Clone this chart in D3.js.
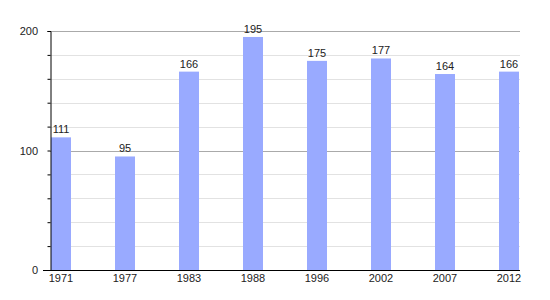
<!DOCTYPE html>
<html>
<head>
<meta charset="utf-8">
<script src="https://cdn.jsdelivr.net/npm/d3@7"></script>
<style>
  body { margin: 0; background: #fff; }
  text { font-family: "Liberation Sans", Arial, sans-serif; fill: #222; }
</style>
</head>
<body>
<div id="chart"></div>
<script>
// data
var years = ["1971", "1977", "1983", "1988", "1996", "2002", "2007", "2012"];
var population = [111, 95, 166, 195, 175, 177, 164, 166];
var yTicks = [0, 100, 200];

var width = 550;
var height = 300;

var svg = d3.select("#chart")
    .append("svg")
    .attr("width", width)
    .attr("height", height);

// scales
var xScale = d3.scaleBand()
    .domain(years)
    .range([51, 519])
    .paddingInner(44 / 64)
    .paddingOuter(0);

var yScale = d3.scaleLinear()
    .domain([0, 200])
    .range([270, 31]);

// gridlines every 20, darker at 100 and 200
var gridVals = d3.range(20, 201, 20);
svg.append("g")
    .selectAll("line")
    .data(gridVals)
    .enter()
    .append("line")
    .attr("x1", 50)
    .attr("x2", 520)
    .attr("y1", function(d) { return Math.round(yScale(d)) + 0.5; })
    .attr("y2", function(d) { return Math.round(yScale(d)) + 0.5; })
    .attr("stroke", function(d) { return d % 100 === 0 ? "#aaaaaa" : "#e2e2e2"; })
    .attr("stroke-width", 1);

// bars
svg.append("g")
    .selectAll("rect")
    .data(population)
    .enter()
    .append("rect")
    .attr("x", function(d, i) { return xScale(years[i]); })
    .attr("y", function(d) { return yScale(d); })
    .attr("width", xScale.bandwidth())
    .attr("height", function(d) { return yScale(0) - yScale(d); })
    .attr("fill", "#99aaff");

// value labels
svg.append("g")
    .selectAll("text")
    .data(population)
    .enter()
    .append("text")
    .attr("x", function(d, i) { return xScale(years[i]) + xScale.bandwidth() / 2; })
    .attr("y", function(d) { return yScale(d) - 4; })
    .attr("text-anchor", "middle")
    .attr("font-size", 11)
    .text(function(d) { return d; });

// y axis
var yAxis = d3.axisLeft(yScale)
    .tickValues(d3.range(0, 201, 20))
    .tickSize(3)
    .tickFormat("");

var yG = svg.append("g")
    .attr("transform", "translate(50.5,0)")
    .call(yAxis);
yG.select(".domain").attr("stroke", "#000");
yG.selectAll(".tick line").attr("stroke", "#000");

svg.append("g")
    .selectAll("text")
    .data(yTicks)
    .enter()
    .append("text")
    .attr("x", 38)
    .attr("y", function(d) { return yScale(d) + 4; })
    .attr("text-anchor", "end")
    .attr("font-size", 11)
    .text(function(d) { return d; });

// x axis line
svg.append("line")
    .attr("x1", 43)
    .attr("x2", 520)
    .attr("y1", 270.5)
    .attr("y2", 270.5)
    .attr("stroke", "#000");

// x labels
svg.append("g")
    .selectAll("text")
    .data(years)
    .enter()
    .append("text")
    .attr("x", function(d) { return xScale(d) + xScale.bandwidth() / 2; })
    .attr("y", 282)
    .attr("text-anchor", "middle")
    .attr("font-size", 11)
    .text(function(d) { return d; });
</script>
</body>
</html>
